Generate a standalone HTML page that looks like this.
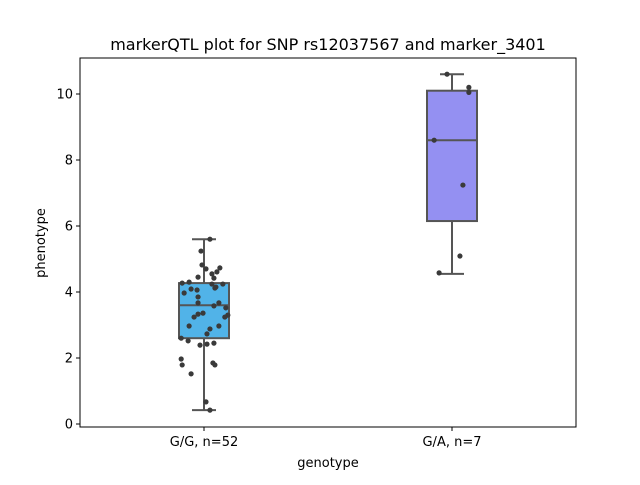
<!DOCTYPE html>
<html><head><meta charset="utf-8"><style>
body{margin:0;background:#fff;font-family:"Liberation Sans","DejaVu Sans",sans-serif}
svg text{font-family:"DejaVu Sans","Liberation Sans",sans-serif}
</style></head><body>
<svg id="c" width="640" height="480" xmlns="http://www.w3.org/2000/svg"></svg>
<script>
const categories=["G/G, n=52","G/A, n=7"];
const boxColors=["#51b3e8","#9490f2"];
const boxQ1=[2.6,6.15];
const boxMedian=[3.6,8.6];
const boxQ3=[4.27,10.1];
const whiskLow=[0.42,4.55];
const whiskHigh=[5.6,10.6];
const yTicks=[0,2,4,6,8,10];
// points: category index, jitter (category units), value
const ptCat=[0,0,0,0,0,0,0,0,0,0,0,0,0,0,0,0,0,0,0,0,0,0,0,0,0,0,0,0,0,0,0,0,0,0,0,0,0,0,0,0,0,0,0,0,1,1,1,1,1,1,1];
const ptJit=[0.024,-0.012,-0.008,0.008,0.064,0.052,0.032,-0.024,0.040,-0.088,-0.060,0.032,0.048,0.076,0.044,-0.080,-0.052,-0.028,-0.024,-0.024,0.040,0.060,0.088,0.096,0.084,-0.004,-0.024,-0.040,-0.060,0.060,0.024,0.012,-0.092,-0.064,0.040,-0.016,0.012,-0.092,-0.088,0.036,0.044,-0.052,0.008,0.024,-0.020,0.068,0.068,-0.072,0.044,0.032,-0.052];
const ptVal=[5.6,5.24,4.82,4.7,4.73,4.61,4.55,4.45,4.42,4.27,4.3,4.24,4.15,4.24,4.12,3.97,4.09,4.06,3.85,3.67,3.58,3.67,3.52,3.3,3.24,3.36,3.33,3.24,2.97,2.97,2.88,2.73,2.6,2.52,2.45,2.39,2.42,1.97,1.79,1.85,1.79,1.52,0.67,0.42,10.6,10.2,10.05,8.6,7.24,5.09,4.58];
const L=80,R=576,T=58,B=427;
const yS=v=>424-33*v;
const xS=i=>204+248*i;
const NS="http://www.w3.org/2000/svg";
const svg=document.getElementById('c');
function mk(t,a,p){const e=document.createElementNS(NS,t);for(const k in a)e.setAttribute(k,a[k]);(p||svg).appendChild(e);return e;}
let e=mk('rect',{x:L,y:T,width:R-L,height:B-T,fill:'none',stroke:'#000','stroke-width':1});

e=mk('text',{x:328,y:50,'font-size':16,'text-anchor':'middle'});e.textContent='markerQTL plot for SNP rs12037567 and marker_3401';

yTicks.forEach(v=>{const y=yS(v);
 e=mk('line',{x1:L-4,x2:L,y1:y,y2:y,stroke:'#000'});
 e=mk('text',{x:L-7,y:y+4.5,'font-size':13,'text-anchor':'end'});e.textContent=v;});
categories.forEach((c,i)=>{const x=xS(i);
 e=mk('line',{x1:x,x2:x,y1:B,y2:B+4,stroke:'#000'});
 e=mk('text',{x:x,y:B+19,'font-size':13,'text-anchor':'middle'});e.textContent=c;
 const g=mk('g',{});
 const s={stroke:'#555','stroke-width':2};
 mk('line',Object.assign({x1:x,x2:x,y1:yS(whiskHigh[i]),y2:yS(boxQ3[i])},s),g);
 mk('line',Object.assign({x1:x,x2:x,y1:yS(boxQ1[i]),y2:yS(whiskLow[i])},s),g);
 mk('line',Object.assign({x1:x-12,x2:x+12,y1:yS(whiskHigh[i]),y2:yS(whiskHigh[i])},s),g);
 mk('line',Object.assign({x1:x-12,x2:x+12,y1:yS(whiskLow[i]),y2:yS(whiskLow[i])},s),g);
 mk('rect',Object.assign({x:x-25,y:yS(boxQ3[i]),width:50,height:yS(boxQ1[i])-yS(boxQ3[i]),fill:boxColors[i]},s),g);
 mk('line',Object.assign({x1:x-25,x2:x+25,y1:yS(boxMedian[i]),y2:yS(boxMedian[i])},s),g);
});
ptVal.forEach((v,k)=>{e=mk('circle',{cx:xS(ptCat[k])+ptJit[k]*248,cy:yS(v),r:2.6,fill:'#3a3a3a'});
 });
e=mk('text',{x:328,y:467,'font-size':13,'text-anchor':'middle'});e.textContent='genotype';

e=mk('text',{x:45,y:243,'font-size':13,'text-anchor':'middle',transform:'rotate(-90 45 243)'});e.textContent='phenotype';

</script>
</body></html>
